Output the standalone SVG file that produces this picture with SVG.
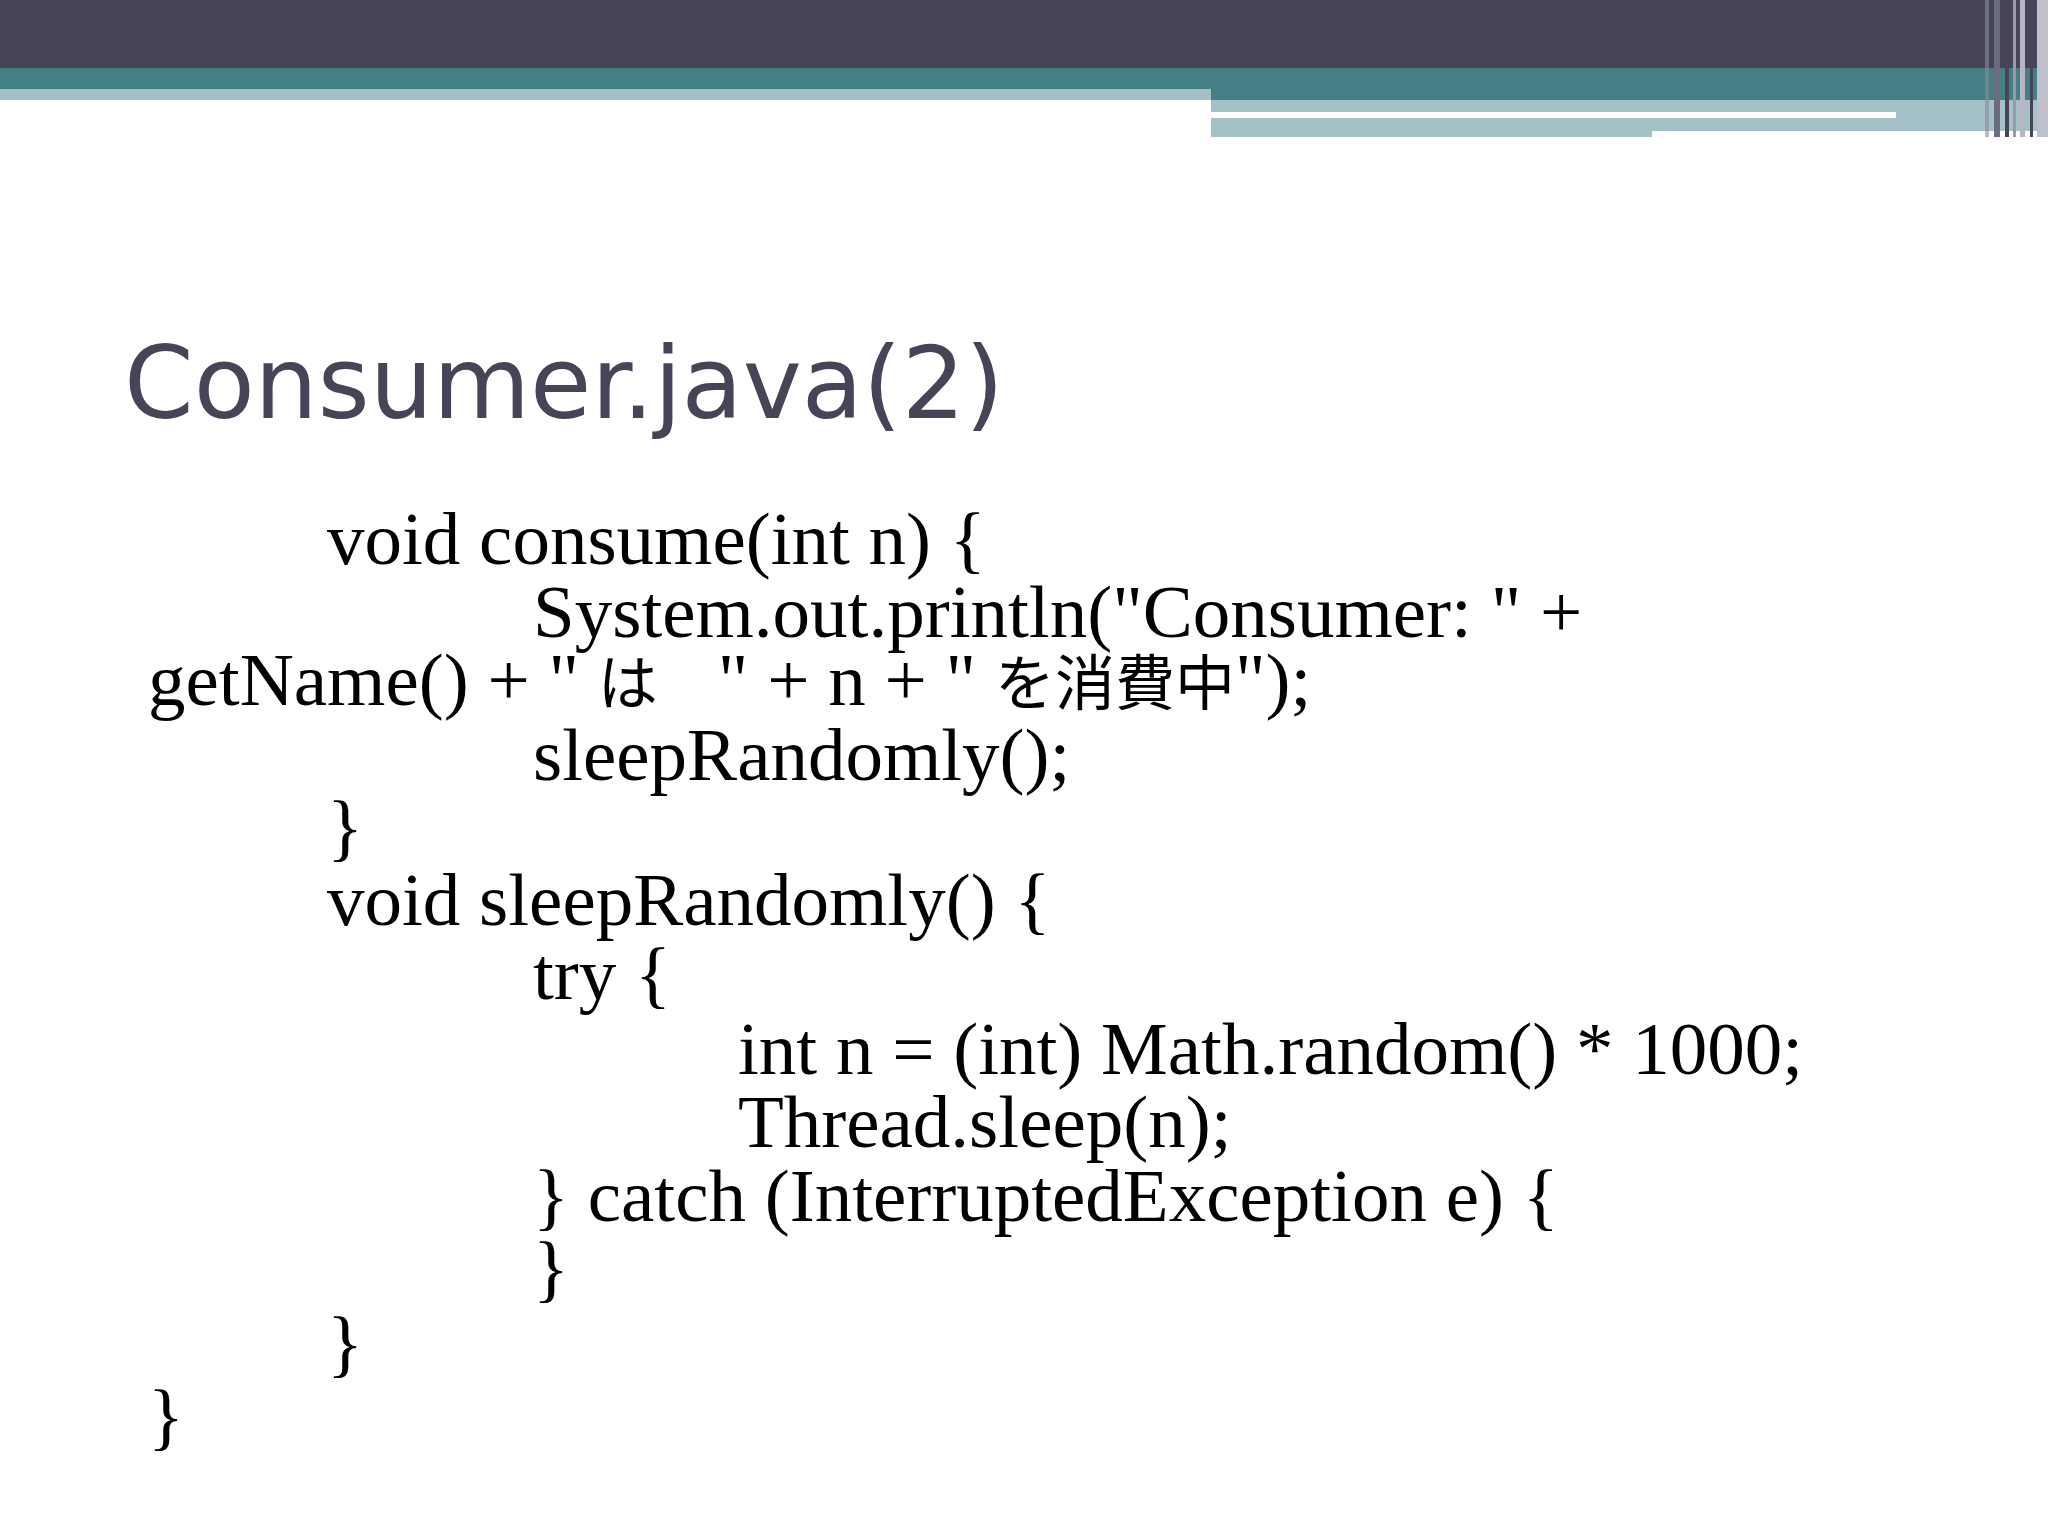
<svg xmlns="http://www.w3.org/2000/svg" width="2048" height="1536" viewBox="0 0 2048 1536">
<style>
.c{font-family:"Liberation Serif","Noto Sans CJK JP",serif;font-size:75px;fill:#000}
.j{font-size:60px}
</style>
<rect width="2048" height="1536" fill="#fff"/>
<g id="header">
<rect x="0" y="0" width="2048" height="68" fill="#464558"/>
<rect x="0" y="68" width="2048" height="32" fill="#437f85"/>
<rect x="0" y="89" width="1211" height="11" fill="#a3c1c6"/>
<rect x="1211" y="100" width="837" height="37" fill="#a3c1c6"/>
<rect x="1211" y="112" width="685" height="6" fill="#fff"/>
<rect x="1652" y="131" width="396" height="6" fill="#fff"/>
<rect x="1985" y="0" width="4" height="137" fill="#8a8a9a" opacity="0.6"/>
<rect x="1994" y="0" width="6" height="137" fill="#6c6c80"/>
<rect x="2005" y="0" width="4" height="137" fill="#464558"/>
<rect x="2013" y="0" width="3" height="137" fill="#9a9aab"/>
<rect x="2020" y="0" width="5" height="137" fill="#b6b6c4"/>
<rect x="2030" y="0" width="3" height="137" fill="#464558"/>
<rect x="2037" y="0" width="11" height="137" fill="#c0c0cc"/>
</g>
<g id="title">
<text x="124" y="418" font-family="DejaVu Sans Condensed,DejaVu Sans,sans-serif" font-size="100" fill="#464558" textLength="880" lengthAdjust="spacingAndGlyphs">Consumer.java(2)</text>
</g>
<g id="code">
<text class="c" x="327" y="564">void consume(int n) {</text>
<text class="c" x="533" y="637">System.out.println("Consumer: " +</text>
<text class="c" x="148" y="705">getName() + " <tspan class="j">は　</tspan>" + n + " <tspan class="j">を消費中</tspan>");</text>
<text class="c" x="533" y="780">sleepRandomly();</text>
<text class="c" x="327" y="852">}</text>
<text class="c" x="327" y="925">void sleepRandomly() {</text>
<text class="c" x="533" y="999">try {</text>
<text class="c" x="738" y="1074">int n = (int) Math.random() * 1000;</text>
<text class="c" x="738" y="1147">Thread.sleep(n);</text>
<text class="c" x="533" y="1221">} catch (InterruptedException e) {</text>
<text class="c" x="533" y="1293">}</text>
<text class="c" x="327" y="1368">}</text>
<text class="c" x="148" y="1441">}</text>
</g>
</svg>
